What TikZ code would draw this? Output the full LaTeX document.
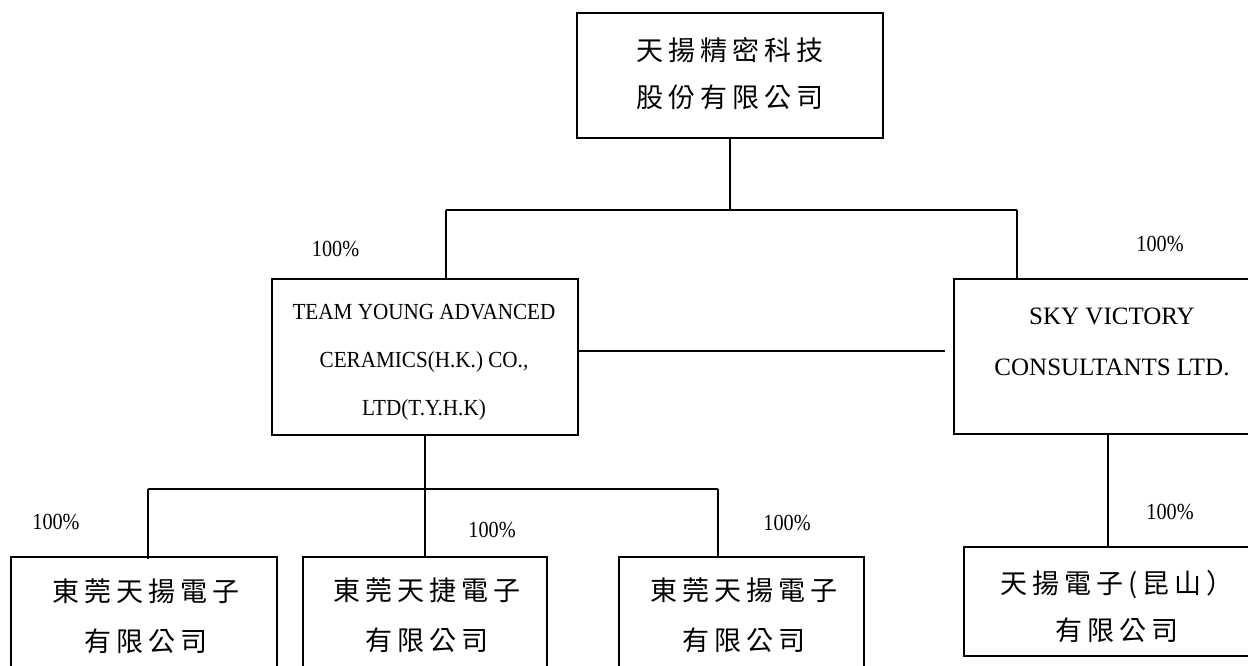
\documentclass[tikz,border=0pt]{standalone}
\usepackage{fontspec}
\setmainfont{Liberation Serif}
\newfontfamily\cjk[LetterSpace=18.5]{Noto Sans CJK TC}
\newfontfamily\tyhfont[FakeStretch=0.92]{Liberation Serif}
\newfontfamily\pctfont[FakeStretch=0.88]{Liberation Serif}
\tikzset{
  box/.style={draw, rectangle, line width=2pt, inner sep=0pt},
  conn/.style={line width=2pt},
  cjktext/.style={align=center, inner sep=0pt, font=\cjk\fontsize{27}{#1}\selectfont},
  pct/.style={inner sep=0pt, font=\pctfont\fontsize{23}{26}\selectfont},
}
\begin{document}
\begin{tikzpicture}[x=1pt,y=-1pt]
\useasboundingbox (0,0) rectangle (1248,665);
\clip (0,0) rectangle (1248,665);

% boxes
\node[box, minimum width=306pt, minimum height=125pt] (top) at (730,75.5) {};
\node[box, minimum width=306pt, minimum height=156pt] (tyh) at (425,357) {};
\node[box, minimum width=320pt, minimum height=155pt] (sky) at (1114,356.5) {};
\node[box, minimum width=266pt, minimum height=170pt] (b1) at (144,642) {};
\node[box, minimum width=244pt, minimum height=170pt] (b2) at (425,642) {};
\node[box, minimum width=245pt, minimum height=170pt] (b3) at (741.5,642) {};
\node[box, minimum width=306pt, minimum height=109pt] (b4) at (1117,601.5) {};

% texts
\node[cjktext=47] (tTop) at (730,73.5) {天揚精密科技\\股份有限公司};
\node[align=center, inner sep=0pt, font=\tyhfont\fontsize{23}{48}\selectfont] (tTyh) at (424,362.5)
  {TEAM YOUNG ADVANCED\\CERAMICS(H.K.) CO.,\\LTD(T.Y.H.K)};
\node[align=center, inner sep=0pt, font=\fontsize{25}{51}\selectfont] (tSky) at (1112,342)
  {SKY VICTORY\\CONSULTANTS LTD.};
\node[cjktext=50] (t1) at (146,616) {東莞天揚電子\\有限公司};
\node[cjktext=50] (t2) at (427,615) {東莞天捷電子\\有限公司};
\node[cjktext=50] (t3) at (744,615) {東莞天揚電子\\有限公司};
\node[cjktext=47] (t4) at (1117,606.5) {天揚電子(昆山）\\有限公司};

% percentages
\node[pct] (p1) at (335.5,248.5) {100\%};
\node[pct] (p2) at (1160,244) {100\%};
\node[pct] (p3) at (56,522) {100\%};
\node[pct] (p4) at (492,530) {100\%};
\node[pct] (p5) at (787,523) {100\%};
\node[pct] (p6) at (1170,512) {100\%};

% junction coordinates
\coordinate (hL) at (446,210);
\coordinate (hR) at (1017,210);
\coordinate (m) at (0,351);
\coordinate (bL) at (148,489);
\coordinate (bR) at (718,489);
\coordinate (sx) at (1108,0);

% connectors
\draw[conn] (top.south) -- (top.south |- hL);
\draw[conn] (hL) -- (hR);
\draw[conn] (hL) -- (hL |- tyh.north);
\draw[conn] (hR) -- (hR |- sky.north);
\draw[conn, shorten >=8pt] (tyh.east |- m) -- (sky.west |- m);
\draw[conn] (tyh.south) -- (tyh.south |- bL);
\draw[conn] (bL) -- (bR);
\draw[conn] (bL) -- ([yshift=-3pt]bL |- b1.north);
\draw[conn] (tyh.south |- bL) -- (b2.north);
\draw[conn] (bR) -- (bR |- b3.north);
\draw[conn] (sky.south -| sx) -- (b4.north -| sx);
\end{tikzpicture}
\end{document}
